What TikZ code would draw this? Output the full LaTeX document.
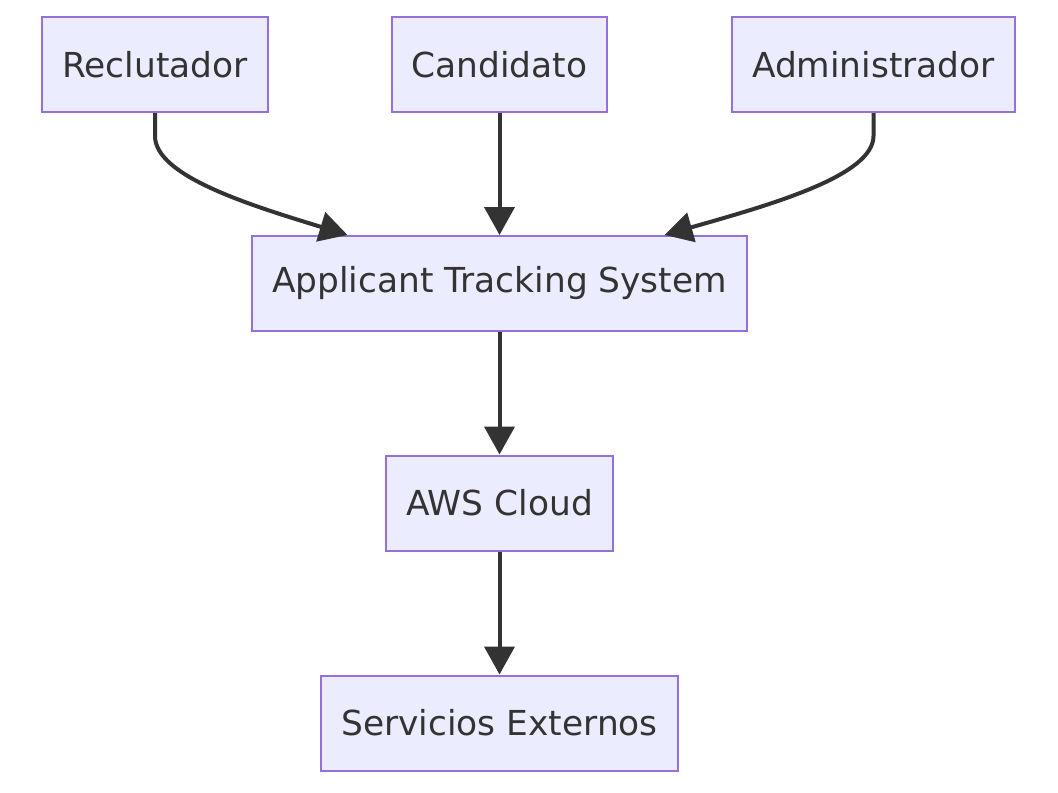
\documentclass[tikz,border=0pt]{standalone}
\usepackage{fontspec}
\setmainfont{DejaVu Sans}
\usetikzlibrary{arrows.meta}
\definecolor{boxfill}{HTML}{ECECFF}
\definecolor{boxline}{HTML}{9370DB}
\definecolor{ink}{HTML}{333333}
\begin{document}
\begin{tikzpicture}[x=0.5pt,y=-0.5pt,
    box/.style={draw=boxline,fill=boxfill,line width=1pt,text=ink,
      font=\fontsize{17.2}{20}\selectfont,inner xsep=10pt,minimum height=47.5pt},
    edge/.style={draw=ink,line width=2pt,-{Triangle[length=14pt,width=15pt]}}]
  \useasboundingbox (0,0) rectangle (1058,792);
    \node[box] (rec) at (155,64.5) {Reclutador};
    \node[box] (cand) at (499.5,64.5) {Candidato};
    \node[box] (admin) at (873.5,64.5) {Administrador};
    \node[box] (ats) at (499.5,283.5) {Applicant Tracking System};
    \node[box] (aws) at (499.5,503) {AWS Cloud};
    \node[box] (ext) at (499.5,723) {Servicios Externos};
  % actors into the system
    \draw[edge] (rec.south) -- ++(0,23) .. controls ++(0,40) and ([xshift=-125pt,yshift=15pt]ats.north) .. ([xshift=-76pt]ats.north);
    \draw[edge] (cand.south) -- (ats.north);
    \draw[edge] (admin.south) -- ++(0,23) .. controls ++(0,40) and ([xshift=135pt,yshift=15pt]ats.north) .. ([xshift=82.5pt]ats.north);
  % down the stack
    \draw[edge] (ats) -- (aws);
    \draw[edge] (aws) -- (ext);
\end{tikzpicture}
\end{document}
